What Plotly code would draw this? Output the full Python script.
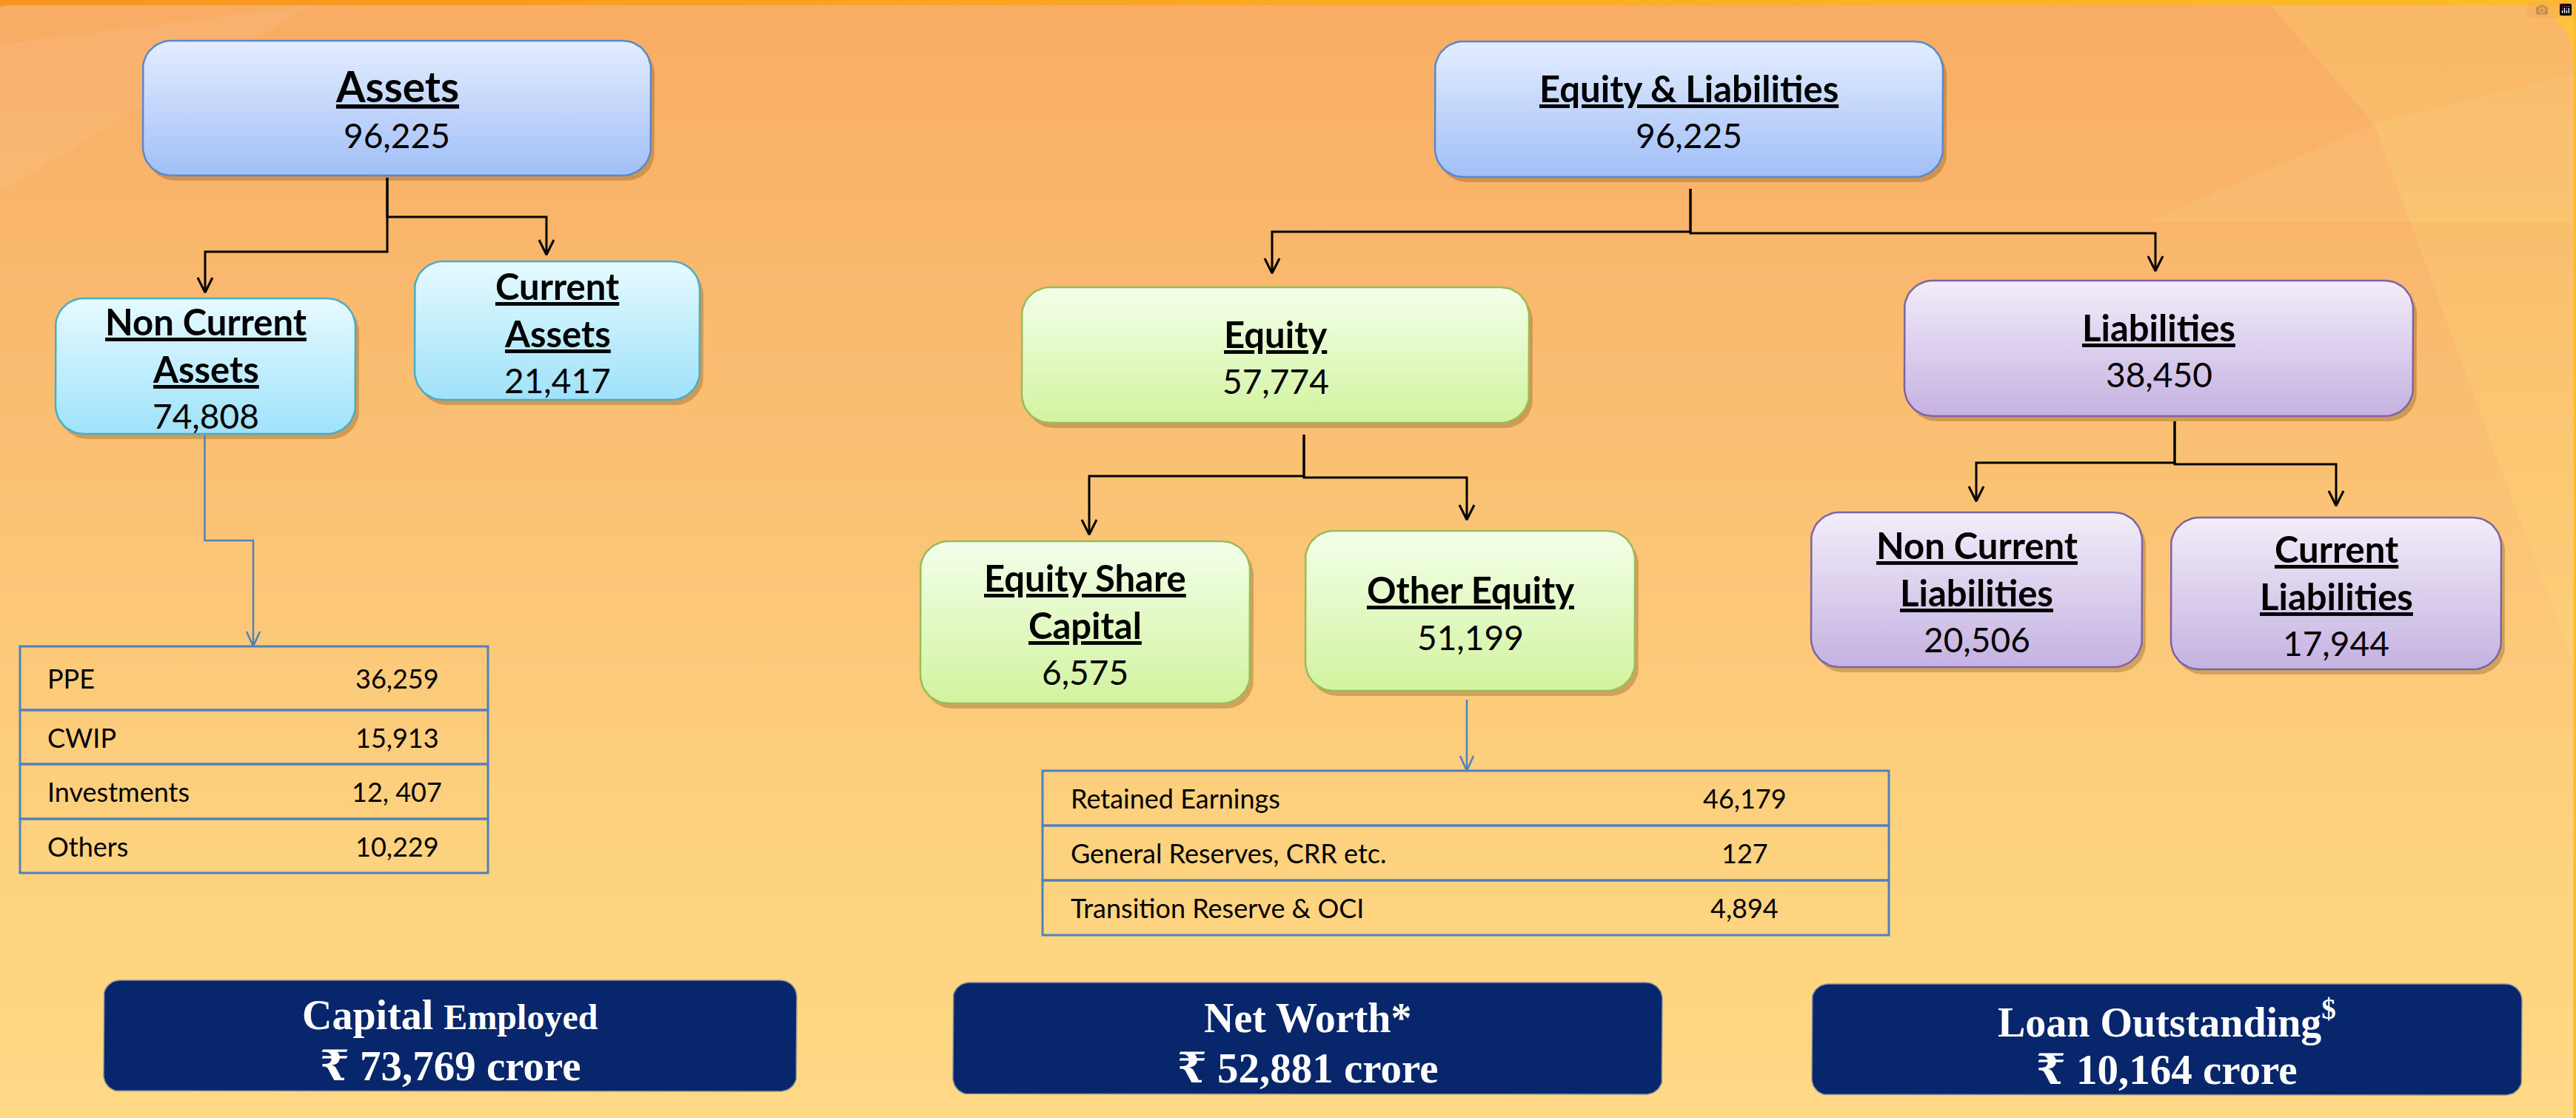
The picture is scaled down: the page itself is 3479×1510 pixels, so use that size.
import math
import plotly.graph_objects as go

# ---------------- data ----------------
node_titles = [
    ["Assets"],
    ["Non Current", "Assets"],
    ["Current", "Assets"],
    ["Equity & Liabilities"],
    ["Equity"],
    ["Equity Share", "Capital"],
    ["Other Equity"],
    ["Liabilities"],
    ["Non Current", "Liabilities"],
    ["Current", "Liabilities"],
]
node_values = [96225, 74808, 21417, 96225, 57774, 6575, 51199, 38450, 20506, 17944]

nca_items = ["PPE", "CWIP", "Investments", "Others"]
nca_values = ["36,259", "15,913", "12, 407", "10,229"]

oe_items = ["Retained Earnings", "General Reserves, CRR etc.", "Transition Reserve & OCI"]
oe_values = ["46,179", "127", "4,894"]

footer_titles = ["Capital <span style='font-size:48px'>Employed</span>", "Net Worth*",
                 "Loan Outstanding<sup>$</sup>"]
footer_values = [73769, 52881, 10164]

# ---------------- geometry (pixels, y down) ----------------
W, H = 3479, 1510

boxes = [
    (193, 55, 879, 237), (75, 403, 480, 586), (560, 353, 945, 540),
    (1938, 56, 2624, 239), (1380, 388, 2065, 571), (1243, 731, 1688, 950),
    (1763, 717, 2208, 933), (2572, 379, 3259, 562), (2446, 692, 2893, 901),
    (2932, 699, 3378, 904),
]
# (top colour, bottom colour, edge)
palette = {
    "blue": ("#E4EDFE", "#A1BFF7", "#5A88CC"),
    "cyan": ("#E6FAFF", "#9FE2FA", "#4BACC6"),
    "green": ("#F3FFEA", "#D2F39E", "#9BBB59"),
    "purple": ("#F2EDF9", "#C5B2E1", "#8064A2"),
}
box_style = ["blue", "cyan", "cyan", "blue", "green", "green", "green",
             "purple", "purple", "purple"]

# elbow connectors: (stem x, stem top, [(bus y, child x, arrow tip y), ...])
connectors = [
    (523, 240, [(293, 738, 344), (340, 277, 395)]),
    (2283, 255, [(313, 1718, 369), (315, 2911, 366)]),
    (1761, 587, [(643, 1471, 722), (645, 1981, 702)]),
    (2937, 569, [(625, 2669, 677), (627, 3155, 683)]),
]

left_table = dict(x0=27, x1=659, edges=[873, 959, 1032, 1106, 1179], lx=62, vx=536)
right_table = dict(x0=1408, x1=2551, edges=[1041, 1115, 1189, 1263], lx=1444, vx=2356)

footer_boxes = [(140, 1324, 1076, 1474), (1287, 1327, 2245, 1478), (2447, 1329, 3406, 1479)]

TEXT_FONT = "Lato, 'Open Sans', sans-serif"
SERIF = "'Liberation Serif', 'DejaVu Serif', serif"


def rounded(x0, y0, x1, y1, r, n=12):
    xs, ys = [], []
    for cx, cy, a0 in [(x1 - r, y0 + r, -90), (x1 - r, y1 - r, 0),
                       (x0 + r, y1 - r, 90), (x0 + r, y0 + r, 180)]:
        for k in range(n + 1):
            a = math.radians(a0 + 90 * k / n)
            xs.append(cx + r * math.cos(a))
            ys.append(cy + r * math.sin(a))
    xs.append(xs[0])
    ys.append(ys[0])
    return xs, ys


def vgrad(top, bottom):
    # the y axis is reversed, so colourscale 0 sits at the bottom of the shape
    return dict(type="vertical", colorscale=[[0, bottom], [1, top]])


fig = go.Figure()

# background: frame + rounded panel with gradient
fig.add_trace(go.Scatter(
    x=[-20, W + 20, W + 20, -20, -20], y=[-20, -20, H + 20, H + 20, -20],
    mode="lines", fill="toself", line=dict(width=0),
    fillgradient=dict(type="horizontal", colorscale=[[0, "#F7951F"], [1, "#FDBB2B"]]),
    hoverinfo="skip", showlegend=False))
px, py = rounded(-60, 7, 3476, H + 120, 75)
fig.add_trace(go.Scatter(
    x=px, y=py, mode="lines", fill="toself", line=dict(width=0),
    fillgradient=dict(type="vertical", colorscale=[[0, "#FFDC87"], [0.3, "#FDD27F"],
                                                   [0.65, "#FABF72"], [1, "#F8AC64"]]),
    hoverinfo="skip", showlegend=False))
# faint light rays
for rx, ry, col in [
    ([3066, 3476, 3476, 3206, 3066], [7, 7, 900, 167, 7], "rgba(255,225,120,0.22)"),
    ([2900, 3206, 3476, 3476, 2900], [300, 167, 100, 300, 300], "rgba(255,230,140,0.14)"),
    ([0, 420, 0, 0], [60, 7, 260, 60], "rgba(255,255,255,0.06)"),
]:
    fig.add_trace(go.Scatter(x=rx, y=ry, mode="lines", fill="toself", fillcolor=col,
                             line=dict(width=0), hoverinfo="skip", showlegend=False))

annotations = []

# node boxes
for (x0, y0, x1, y1), sty, titles, val in zip(boxes, box_style, node_titles, node_values):
    top, bottom, edge = palette[sty]
    sx, sy = rounded(x0 + 5, y0 + 7, x1 + 5, y1 + 7, 38)
    fig.add_trace(go.Scatter(x=sx, y=sy, mode="lines", fill="toself",
                             fillcolor="rgba(110,70,20,0.30)", line=dict(width=0),
                             hoverinfo="skip", showlegend=False))
    bx, by = rounded(x0, y0, x1, y1, 38)
    fig.add_trace(go.Scatter(
        x=bx, y=by, mode="lines", fill="toself", fillgradient=vgrad(top, bottom),
        line=dict(color=edge, width=2.5), hoverinfo="skip", showlegend=False))
    lines = titles + [f"{val:,}"]
    n = len(lines)
    cx, cy = (x0 + x1) / 2, (y0 + y1) / 2 + 3
    gap = 67 if titles == ["Assets"] else 64
    for i, txt in enumerate(lines):
        is_title = i < len(titles)
        size = 57 if titles == ["Assets"] and is_title else (49 if is_title else 46)
        annotations.append(dict(
            x=cx, y=cy + (i - (n - 1) / 2) * gap, xref="x", yref="y", text=txt,
            showarrow=False, xanchor="center", yanchor="middle",
            font=dict(family=TEXT_FONT, size=size, color="#000000",
                      weight="bold" if is_title else "normal",
                      lineposition="under" if is_title else "none")))

# black elbow connectors with open arrowheads
cxs, cys = [], []
for stem_x, stem_top, kids in connectors:
    for bus_y, kid_x, tip in kids:
        cxs += [stem_x, stem_x, kid_x, kid_x, None, kid_x - 10, kid_x, kid_x + 10, None]
        cys += [stem_top, bus_y, bus_y, tip, None, tip - 20, tip, tip - 20, None]
fig.add_trace(go.Scatter(x=cxs, y=cys, mode="lines", line=dict(color="#000000", width=3),
                         hoverinfo="skip", showlegend=False))

# blue connectors to the breakdown tables
nca_box, oe_box = boxes[1], boxes[6]
bx0 = (nca_box[0] + nca_box[2]) / 2 - 1
bx1 = 342
ox = 1981
lt, rt = left_table["edges"][0], right_table["edges"][0]
fig.add_trace(go.Scatter(
    x=[bx0, bx0, bx1, bx1, None, bx1 - 9, bx1, bx1 + 9, None,
       ox, ox, None, ox - 9, ox, ox + 9],
    y=[nca_box[3] + 2, 730, 730, lt, None, lt - 20, lt, lt - 20, None,
       oe_box[3] + 12, rt, None, rt - 20, rt, rt - 20],
    mode="lines", line=dict(color="#4F81BD", width=2.5),
    hoverinfo="skip", showlegend=False))

# breakdown tables
shapes = []
for tbl, items, vals in [(left_table, nca_items, nca_values), (right_table, oe_items, oe_values)]:
    e = tbl["edges"]
    for i, (lab, v) in enumerate(zip(items, vals)):
        shapes.append(dict(type="rect", xref="x", yref="y", x0=tbl["x0"], x1=tbl["x1"],
                           y0=e[i], y1=e[i + 1], line=dict(color="#4F81BD", width=3)))
        ymid = (e[i] + e[i + 1]) / 2
        annotations.append(dict(x=tbl["lx"], y=ymid, xref="x", yref="y", text=lab,
                                showarrow=False, xanchor="left", yanchor="middle",
                                font=dict(family=TEXT_FONT, size=36, color="#000000")))
        annotations.append(dict(x=tbl["vx"], y=ymid, xref="x", yref="y", text=v,
                                showarrow=False, xanchor="center", yanchor="middle",
                                font=dict(family=TEXT_FONT, size=36, color="#000000")))

# footer summary boxes
for (x0, y0, x1, y1), title, val in zip(footer_boxes, footer_titles, footer_values):
    fx, fy = rounded(x0, y0, x1, y1, 22)
    fig.add_trace(go.Scatter(x=fx, y=fy, mode="lines", fill="toself", fillcolor="#08266B",
                             line=dict(color="#8A8F9A", width=1.5),
                             hoverinfo="skip", showlegend=False))
    cx, cy = (x0 + x1) / 2, (y0 + y1) / 2
    annotations.append(dict(x=cx, y=cy - 28, xref="x", yref="y", text=f"<b>{title}</b>",
                            showarrow=False, xanchor="center", yanchor="middle",
                            font=dict(family=SERIF, size=56, color="#FFFFFF")))
    annotations.append(dict(x=cx, y=cy + 40, xref="x", yref="y",
                            text=f"<b>\u20b9 {val:,} crore</b>",
                            showarrow=False, xanchor="center", yanchor="middle",
                            font=dict(family=SERIF, size=57, color="#FFFFFF")))

fig.update_layout(
    width=W, height=H,
    margin=dict(l=0, r=0, t=0, b=0),
    paper_bgcolor="#F8A958", plot_bgcolor="rgba(0,0,0,0)",
    xaxis=dict(range=[0, W], visible=False, fixedrange=True),
    yaxis=dict(range=[H, 0], visible=False, fixedrange=True),
    shapes=shapes, annotations=annotations, showlegend=False,
)

fig.write_html("out.html", post_script="document.body.style.margin='0';document.body.style.overflow='hidden';")
